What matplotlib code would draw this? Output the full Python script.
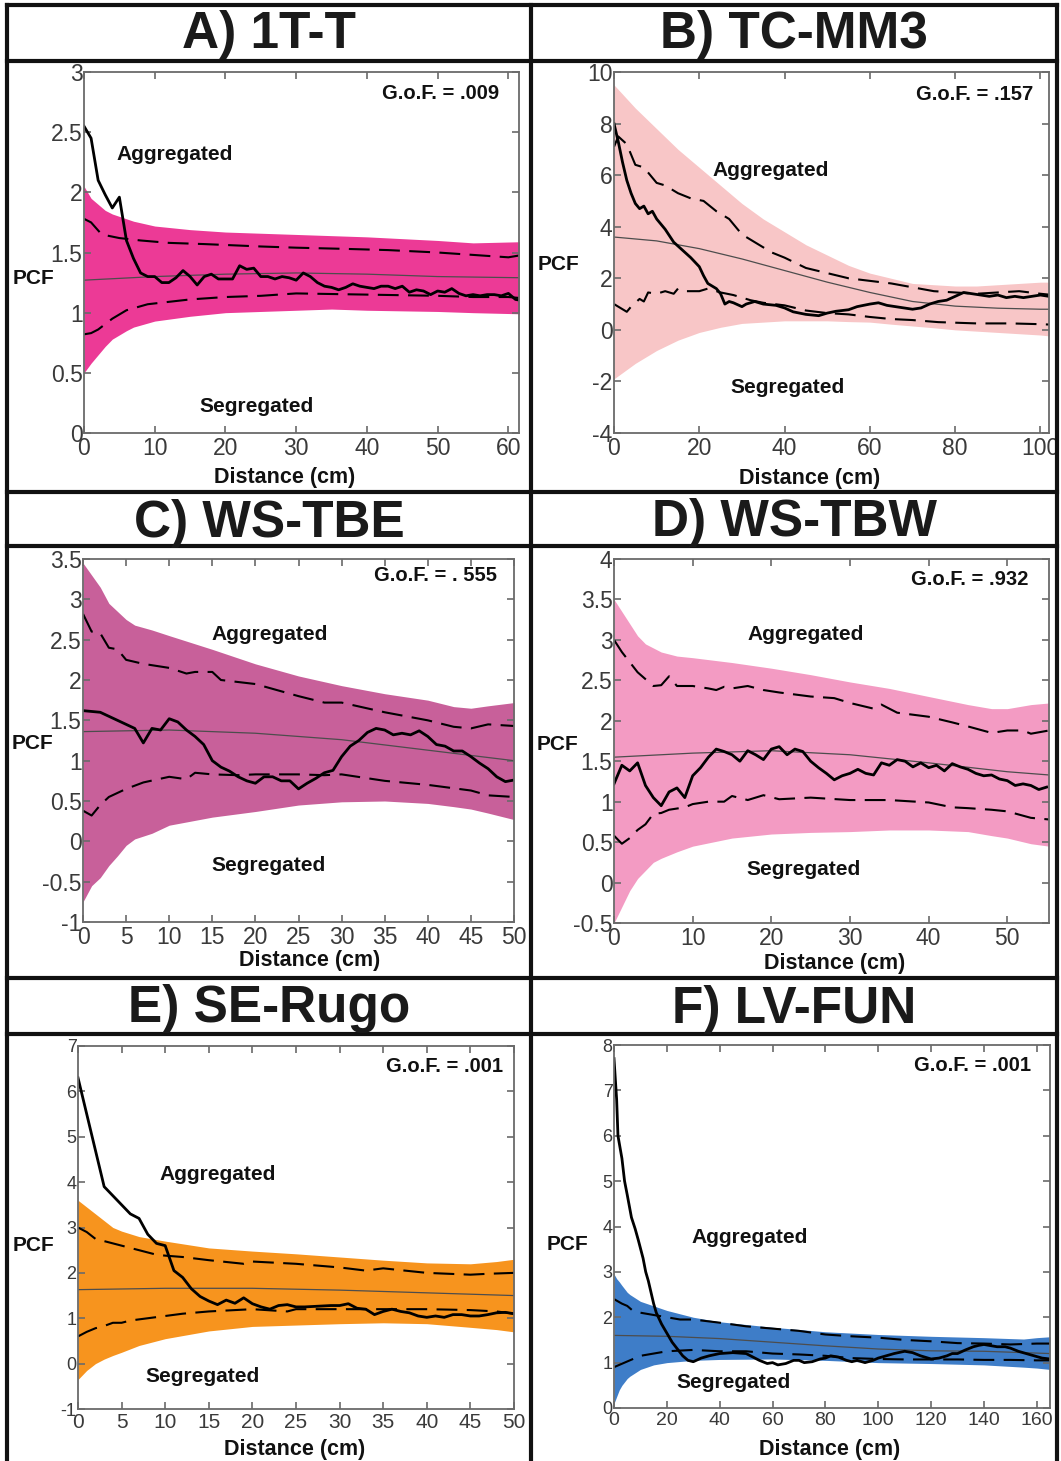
import matplotlib
matplotlib.use("Agg")
import matplotlib.pyplot as plt
from matplotlib.lines import Line2D

plt.rcParams['font.family'] = ['Liberation Sans', 'DejaVu Sans']

W, H = 1061, 1461

# ---------------- DATA ----------------
# Panel A) 1T-T
a_env_x = [0, 1, 2, 3, 4, 6, 7, 10, 15, 20, 30, 35, 40, 50, 55, 62]
a_env_hi = [2.05, 1.95, 1.9, 1.85, 1.82, 1.78, 1.76, 1.72, 1.69, 1.67, 1.65, 1.64, 1.63, 1.60, 1.58, 1.59]
a_env_lo = [0.5, 0.58, 0.65, 0.72, 0.78, 0.85, 0.88, 0.93, 0.97, 1.0, 1.02, 1.03, 1.02, 1.01, 1.0, 0.99]
a_up_x = [0, 1, 2.5, 5, 8, 12, 17, 25, 30, 37, 43, 50, 55, 60, 62]
a_up = [1.78, 1.75, 1.65, 1.62, 1.60, 1.58, 1.57, 1.55, 1.54, 1.53, 1.52, 1.50, 1.48, 1.46, 1.48]
a_lo_x = [0, 1, 2, 4, 6, 9, 12, 15, 20, 25, 30, 40, 50, 55, 60, 62]
a_lo = [0.82, 0.83, 0.86, 0.95, 1.02, 1.07, 1.09, 1.11, 1.13, 1.14, 1.16, 1.15, 1.14, 1.13, 1.13, 1.12]
a_mean_x = [0, 10, 20, 30, 40, 50, 62]
a_mean = [1.27, 1.30, 1.32, 1.33, 1.32, 1.30, 1.29]
a_obs_x = list(range(0, 63))
a_obs = [2.55, 2.45, 2.1, 1.98, 1.87, 1.96, 1.6, 1.45, 1.33, 1.30, 1.30, 1.25, 1.25, 1.29, 1.35, 1.30,
         1.23, 1.30, 1.32, 1.28, 1.28, 1.28, 1.39, 1.36, 1.37, 1.30, 1.30, 1.28, 1.30, 1.29, 1.27, 1.33,
         1.30, 1.25, 1.22, 1.21, 1.19, 1.21, 1.24, 1.22, 1.21, 1.20, 1.22, 1.22, 1.20, 1.22, 1.17, 1.19,
         1.18, 1.15, 1.18, 1.17, 1.20, 1.16, 1.14, 1.15, 1.14, 1.15, 1.15, 1.14, 1.16, 1.11, 1.10]

# Panel B) TC-MM3
b_env_x = [0, 5, 10, 15, 20, 25, 30, 35, 40, 45, 50, 55, 60, 65, 70, 75, 80, 85, 90, 95, 100, 103]
b_env_hi = [9.5, 8.6, 7.8, 7.0, 6.3, 5.6, 4.9, 4.3, 3.8, 3.3, 2.9, 2.5, 2.2, 2.0, 1.8, 1.75, 1.7, 1.7, 1.75, 1.8, 1.85, 1.85]
b_env_lo = [-1.9, -1.3, -0.8, -0.4, -0.1, 0.1, 0.25, 0.3, 0.35, 0.35, 0.35, 0.32, 0.3, 0.22, 0.15, 0.08, 0.0, -0.05, -0.1, -0.15, -0.2, -0.25]
b_up_x = [0, 1, 3, 5, 7, 10, 12, 15, 18, 21, 24, 27, 30, 33, 37, 40, 45, 50, 55, 60, 65, 70, 75, 80, 85, 90, 95, 100, 103]
b_up = [7.1, 7.5, 7.2, 6.4, 6.3, 5.7, 5.6, 5.3, 5.1, 5.0, 4.6, 4.3, 3.7, 3.4, 3.0, 2.8, 2.4, 2.2, 2.0, 1.9, 1.8, 1.65, 1.5, 1.45, 1.4, 1.45, 1.5, 1.4, 1.35]
b_lo_x = [0, 3, 4, 6, 7, 8, 10, 12, 14, 15, 17, 20, 22, 25, 28, 32, 35, 40, 45, 50, 55, 60, 65, 70, 76, 85, 93, 100, 103]
b_lo = [1.0, 0.7, 0.9, 1.2, 1.1, 1.45, 1.4, 1.5, 1.4, 1.6, 1.5, 1.5, 1.6, 1.45, 1.35, 1.15, 1.05, 0.95, 0.75, 0.65, 0.6, 0.5, 0.42, 0.38, 0.3, 0.25, 0.25, 0.22, 0.2]
b_mean_x = [0, 10, 20, 30, 40, 50, 60, 70, 80, 90, 100, 103]
b_mean = [3.6, 3.45, 3.15, 2.75, 2.3, 1.85, 1.45, 1.1, 0.92, 0.84, 0.8, 0.8]
b_obs_x = [0, 1, 2, 3, 4, 5, 6, 7, 8, 9, 10, 12, 14, 16, 18, 20, 21, 22, 23, 24, 25, 26, 27, 28, 30, 31, 33, 35,
           38, 40, 42, 45, 48, 50, 52, 55, 57, 60, 62, 64, 66, 68, 70, 72, 74, 76, 78, 80, 82, 84, 86, 88, 90,
           92, 94, 96, 98, 100, 102, 103]
b_obs = [8.0, 7.3, 6.5, 5.8, 5.3, 4.9, 4.7, 4.8, 4.5, 4.6, 4.3, 3.9, 3.4, 3.1, 2.8, 2.45, 2.1, 1.8, 1.7, 1.6,
         1.4, 1.0, 1.1, 1.05, 0.9, 1.0, 1.1, 1.0, 0.95, 0.85, 0.7, 0.6, 0.55, 0.65, 0.72, 0.78, 0.9, 1.0, 1.05,
         0.95, 0.9, 0.85, 0.8, 0.85, 1.0, 1.1, 1.15, 1.3, 1.45, 1.4, 1.35, 1.3, 1.35, 1.25, 1.3, 1.25, 1.3,
         1.35, 1.3, 1.2]

# Panel C) WS-TBE
c_env_x = [0, 1, 2, 3, 4, 5, 6, 8, 10, 15, 20, 25, 30, 35, 40, 43, 45, 47, 50]
c_env_hi = [3.45, 3.3, 3.15, 2.95, 2.85, 2.75, 2.68, 2.62, 2.55, 2.38, 2.2, 2.05, 1.93, 1.83, 1.75, 1.67, 1.65, 1.68, 1.72]
c_env_lo = [-0.75, -0.55, -0.45, -0.3, -0.18, -0.05, 0.03, 0.1, 0.2, 0.3, 0.37, 0.45, 0.49, 0.5, 0.47, 0.43, 0.4, 0.35, 0.27]
c_up_x = [0, 1, 2, 3, 4, 5, 7, 10, 12, 13, 15, 16, 20, 25, 28, 30, 35, 40, 43, 45, 47, 50]
c_up = [2.82, 2.6, 2.58, 2.4, 2.38, 2.25, 2.2, 2.15, 2.08, 2.1, 2.1, 2.0, 1.95, 1.8, 1.72, 1.72, 1.6, 1.5, 1.42, 1.4, 1.45, 1.43]
c_lo_x = [0, 1, 2, 3, 5, 7, 10, 12, 13, 15, 18, 20, 25, 28, 30, 35, 38, 40, 45, 47, 50]
c_lo = [0.38, 0.32, 0.45, 0.55, 0.65, 0.73, 0.8, 0.77, 0.85, 0.83, 0.82, 0.83, 0.83, 0.82, 0.83, 0.75, 0.72, 0.7, 0.63, 0.57, 0.55]
c_mean_x = [0, 10, 20, 30, 40, 50]
c_mean = [1.36, 1.38, 1.34, 1.26, 1.13, 1.0]
c_obs_x = [0, 2, 4, 6] + list(range(7, 51))
c_obs = [1.62, 1.6, 1.5, 1.4, 1.22, 1.4, 1.38, 1.52, 1.48, 1.38, 1.3, 1.2, 1.0, 0.92, 0.87, 0.8, 0.75, 0.72,
         0.8, 0.8, 0.75, 0.75, 0.65, 0.72, 0.78, 0.85, 0.88, 1.05, 1.18, 1.25, 1.35, 1.4, 1.38, 1.32, 1.34,
         1.32, 1.37, 1.3, 1.2, 1.18, 1.12, 1.12, 1.05, 0.97, 0.9, 0.8, 0.74, 0.76]

# Panel D) WS-TBW
d_env_x = [0, 1, 2, 3, 4, 5, 6, 8, 10, 15, 20, 25, 30, 35, 40, 45, 48, 50, 53, 55.3]
d_env_hi = [3.5, 3.35, 3.2, 3.05, 2.95, 2.9, 2.85, 2.8, 2.78, 2.72, 2.65, 2.57, 2.48, 2.4, 2.3, 2.2, 2.15, 2.15, 2.2, 2.22]
d_env_lo = [-0.5, -0.3, -0.1, 0.05, 0.15, 0.25, 0.3, 0.38, 0.45, 0.55, 0.6, 0.62, 0.63, 0.65, 0.65, 0.63, 0.58, 0.55, 0.48, 0.45]
d_up_x = [0, 1, 3, 5, 6, 7, 8, 10, 12, 13, 14, 15, 17, 19, 21, 25, 28, 30, 33, 34, 36, 40, 43, 45, 48, 50, 52, 53, 55.3]
d_up = [3.0, 2.85, 2.6, 2.43, 2.44, 2.55, 2.43, 2.43, 2.4, 2.38, 2.42, 2.4, 2.43, 2.38, 2.35, 2.3, 2.28, 2.22, 2.15, 2.2, 2.1, 2.05, 1.98, 1.93, 1.85, 1.88, 1.88, 1.84, 1.88]
d_lo_x = [0, 1, 2, 3, 4, 5, 6, 7, 9, 10, 12, 14, 15, 17, 19, 21, 25, 30, 35, 40, 43, 45, 48, 50, 53, 55.3]
d_lo = [0.58, 0.48, 0.55, 0.65, 0.72, 0.85, 0.86, 0.9, 0.93, 0.97, 1.0, 1.0, 1.07, 1.02, 1.08, 1.03, 1.05, 1.02, 1.02, 0.99, 0.93, 0.92, 0.9, 0.88, 0.8, 0.78]
d_mean_x = [0, 10, 20, 30, 40, 50, 55.3]
d_mean = [1.55, 1.6, 1.63, 1.58, 1.48, 1.37, 1.33]
d_obs_x = list(range(0, 56))
d_obs = [1.22, 1.45, 1.38, 1.48, 1.2, 1.05, 0.95, 1.12, 1.17, 1.05, 1.32, 1.42, 1.55, 1.65, 1.62, 1.58,
         1.5, 1.63, 1.58, 1.52, 1.65, 1.68, 1.58, 1.65, 1.62, 1.5, 1.42, 1.35, 1.27, 1.32, 1.35, 1.4, 1.35,
         1.33, 1.48, 1.45, 1.52, 1.5, 1.43, 1.48, 1.42, 1.45, 1.38, 1.47, 1.43, 1.4, 1.35, 1.32, 1.33, 1.28,
         1.26, 1.2, 1.22, 1.2, 1.15, 1.18]

# Panel E) SE-Rugo
e_env_x = [0, 1, 2, 3, 4, 5, 7, 10, 15, 20, 25, 30, 35, 40, 45, 48, 50]
e_env_hi = [3.6, 3.45, 3.3, 3.15, 3.0, 2.92, 2.8, 2.7, 2.55, 2.48, 2.42, 2.35, 2.28, 2.22, 2.2, 2.25, 2.3]
e_env_lo = [-0.35, -0.15, 0.0, 0.1, 0.18, 0.25, 0.4, 0.55, 0.72, 0.82, 0.85, 0.88, 0.9, 0.88, 0.8, 0.75, 0.7]
e_up_x = [0, 1, 2, 3, 5, 7, 9, 10, 12, 15, 18, 19, 20, 25, 30, 33, 35, 40, 45, 47, 50]
e_up = [3.0, 2.9, 2.75, 2.7, 2.6, 2.5, 2.4, 2.38, 2.35, 2.28, 2.22, 2.2, 2.25, 2.2, 2.12, 2.05, 2.1, 2.0, 1.96, 1.98, 2.0]
e_lo_x = [0, 1, 2, 3, 4, 5, 6, 8, 10, 12, 15, 20, 24, 25, 30, 35, 40, 45, 48, 50]
e_lo = [0.6, 0.7, 0.78, 0.83, 0.9, 0.9, 0.95, 1.0, 1.05, 1.1, 1.15, 1.2, 1.15, 1.2, 1.2, 1.2, 1.2, 1.18, 1.15, 1.1]
e_mean_x = [0, 10, 20, 30, 40, 50]
e_mean = [1.63, 1.66, 1.66, 1.62, 1.56, 1.5]
e_obs_x = list(range(0, 51))
e_obs = [6.3, 5.5, 4.7, 3.9, 3.7, 3.5, 3.3, 3.2, 2.85, 2.65, 2.6, 2.05, 1.9, 1.65, 1.48, 1.38, 1.3, 1.4,
         1.33, 1.45, 1.32, 1.25, 1.2, 1.28, 1.3, 1.25, 1.25, 1.26, 1.27, 1.28, 1.28, 1.32, 1.22, 1.2, 1.08,
         1.15, 1.2, 1.15, 1.12, 1.05, 1.02, 1.05, 1.02, 1.08, 1.08, 1.05, 1.05, 1.08, 1.12, 1.13, 1.1]

# Panel F) LV-FUN
f_env_x = [0, 1, 2, 3, 5, 6, 10, 15, 20, 30, 40, 60, 80, 100, 120, 140, 155, 160, 165]
f_env_hi = [2.95, 2.85, 2.78, 2.7, 2.55, 2.5, 2.35, 2.25, 2.15, 2.0, 1.9, 1.78, 1.68, 1.62, 1.58, 1.55, 1.52, 1.55, 1.57]
f_env_lo = [0.1, 0.25, 0.4, 0.5, 0.65, 0.7, 0.85, 0.95, 1.0, 1.05, 1.07, 1.08, 1.05, 1.0, 0.98, 0.95, 0.9, 0.88, 0.85]
f_up_x = [0, 3, 5, 7, 10, 15, 20, 25, 30, 40, 50, 60, 70, 80, 90, 100, 110, 120, 130, 140, 150, 160, 165]
f_up = [2.4, 2.3, 2.25, 2.15, 2.1, 2.05, 2.0, 1.95, 1.95, 1.88, 1.8, 1.75, 1.7, 1.62, 1.58, 1.55, 1.5, 1.47, 1.43, 1.42, 1.4, 1.42, 1.42]
f_lo_x = [0, 2, 4, 6, 8, 10, 15, 20, 30, 40, 50, 60, 70, 80, 90, 100, 110, 120, 130, 140, 150, 160, 165]
f_lo = [0.9, 0.95, 1.0, 1.05, 1.1, 1.15, 1.2, 1.25, 1.28, 1.25, 1.25, 1.2, 1.18, 1.15, 1.1, 1.08, 1.07, 1.07, 1.07, 1.06, 1.06, 1.05, 1.05]
f_mean_x = [0, 20, 40, 60, 80, 100, 120, 140, 165]
f_mean = [1.6, 1.58, 1.53, 1.45, 1.37, 1.3, 1.26, 1.25, 1.2]
f_obs_x = [0, 1, 1.5, 3, 4, 5, 6.6, 8, 9.2, 11, 12, 13, 14, 15, 16, 18, 20, 22, 24, 26, 28, 30, 33, 36, 40,
           45, 50, 55, 58, 60, 62, 65, 68, 70, 72, 75, 78, 80, 82, 85, 88, 90, 92, 95, 98, 100, 103, 106,
           110, 113, 116, 120, 123, 126, 128, 130, 133, 136, 138, 140, 142, 145, 148, 150, 153, 156, 159,
           162, 165]
f_obs = [7.7, 6.8, 6.0, 5.5, 5.0, 4.7, 4.2, 3.95, 3.7, 3.3, 3.0, 2.8, 2.55, 2.3, 2.1, 1.85, 1.65, 1.45, 1.3,
         1.15, 1.05, 1.02, 1.1, 1.15, 1.2, 1.22, 1.2, 1.05, 0.98, 1.0, 0.95, 0.98, 1.05, 1.05, 1.0, 1.02,
         1.08, 1.1, 1.15, 1.12, 1.05, 1.02, 1.05, 1.0, 1.05, 1.1, 1.15, 1.2, 1.25, 1.22, 1.15, 1.08, 1.1,
         1.15, 1.2, 1.2, 1.28, 1.35, 1.38, 1.4, 1.38, 1.35, 1.35, 1.32, 1.25, 1.2, 1.15, 1.1, 1.08]

titles = ["A) 1T-T", "B) TC-MM3", "C) WS-TBE", "D) WS-TBW", "E) SE-Rugo", "F) LV-FUN"]
gof_labels = ["G.o.F. = .009", "G.o.F. = .157", "G.o.F. = . 555", "G.o.F. = .932", "G.o.F. = .001", "G.o.F. = .001"]
env_colors = ["#EC3A96", "#F8C6C7", "#C8609A", "#F39BC3", "#F7941E", "#3E7DC8"]
xticks_list = [[0, 10, 20, 30, 40, 50, 60], [0, 20, 40, 60, 80, 100], list(range(0, 51, 5)),
               [0, 10, 20, 30, 40, 50], list(range(0, 51, 5)), [0, 20, 40, 60, 80, 100, 120, 140, 160]]
yticks_list = [[0, 0.5, 1, 1.5, 2, 2.5, 3], [-4, -2, 0, 2, 4, 6, 8, 10],
               [-1, -0.5, 0, 0.5, 1, 1.5, 2, 2.5, 3, 3.5], [-0.5, 0, 0.5, 1, 1.5, 2, 2.5, 3, 3.5, 4],
               [-1, 0, 1, 2, 3, 4, 5, 6, 7], [0, 1, 2, 3, 4, 5, 6, 7, 8]]
xlims = [(0, 61.5), (0, 102), (0, 50), (0, 55.3), (0, 50), (0, 165)]

panels = [
    (a_env_x, a_env_hi, a_env_lo, a_up_x, a_up, a_lo_x, a_lo, a_mean_x, a_mean, a_obs_x, a_obs),
    (b_env_x, b_env_hi, b_env_lo, b_up_x, b_up, b_lo_x, b_lo, b_mean_x, b_mean, b_obs_x, b_obs),
    (c_env_x, c_env_hi, c_env_lo, c_up_x, c_up, c_lo_x, c_lo, c_mean_x, c_mean, c_obs_x, c_obs),
    (d_env_x, d_env_hi, d_env_lo, d_up_x, d_up, d_lo_x, d_lo, d_mean_x, d_mean, d_obs_x, d_obs),
    (e_env_x, e_env_hi, e_env_lo, e_up_x, e_up, e_lo_x, e_lo, e_mean_x, e_mean, e_obs_x, e_obs),
    (f_env_x, f_env_hi, f_env_lo, f_up_x, f_up, f_lo_x, f_lo, f_mean_x, f_mean, f_obs_x, f_obs),
]

# ---------------- LAYOUT (pixels) ----------------
axes_px = [(84, 519, 72, 433), (614, 1049, 72, 433), (83, 514, 559, 922),
           (614, 1049, 559, 923), (78, 514, 1046, 1409), (614, 1050, 1045, 1408)]
title_px = [(269, 48), (794, 48), (269, 537), (794, 536), (269, 1022), (794, 1023)]
agg_px = [(175, 160), (771, 176), (270, 640), (806, 640), (218, 1180), (750, 1243)]
seg_px = [(257, 412), (788, 393), (269, 871), (804, 875), (203, 1382), (734, 1388)]
gof_px = [(499, 99), (1033, 100), (497, 581), (1028, 585), (503, 1072), (1031, 1071)]
pcf_px = [(13, 284), (538, 270), (12, 749), (537, 750), (13, 1251), (547, 1250)]
dist_px = [(285, 483), (810, 484), (310, 966), (835, 969), (295, 1455), (830, 1455)]
xlab_size = [16.5, 16.5, 16.5, 16.5, 15, 14]
ylab_size = [16.5, 16.5, 16.5, 16.5, 13, 13]

fig = plt.figure(figsize=(W / 100, H / 100), dpi=100)

def fx(x):
    return x / W

def fy(y):
    return 1 - y / H

spine_c = "#6a6a6a"
for i, (ex, ehi, elo, ux, uy, lx, ly, mx, my, ox, oy) in enumerate(panels):
    L, R, T, B = axes_px[i]
    ax = fig.add_axes([fx(L), fy(B), (R - L) / W, (B - T) / H])
    ax.fill_between(ex, elo, ehi, color=env_colors[i], lw=0, zorder=1)
    ax.plot(mx, my, color="#4d4d4d", lw=0.9, zorder=2)
    ax.plot(ux, uy, color="black", lw=1.5, dashes=(10, 4.5), zorder=3)
    ax.plot(lx, ly, color="black", lw=1.5, dashes=(10, 4.5), zorder=3)
    ax.plot(ox, oy, color="black", lw=2.0, zorder=4)
    yt = yticks_list[i]
    ax.set_ylim(yt[0], yt[-1])
    ax.set_xlim(*xlims[i])
    ax.set_xticks(xticks_list[i])
    ax.set_xticklabels([f"{v:g}" for v in xticks_list[i]])
    ax.set_yticks(yt)
    ax.set_yticklabels([f"{v:g}" for v in yt])
    for s in ax.spines.values():
        s.set_color(spine_c)
        s.set_linewidth(1.3)
        s.set_zorder(5)
    ax.tick_params(axis="both", direction="in", length=5, width=1.2, color=spine_c,
                   top=True, right=True, labelcolor="#3a3a3a")
    ax.tick_params(axis="x", labelsize=xlab_size[i], pad=3)
    ax.tick_params(axis="y", labelsize=ylab_size[i], pad=1)

    fig.text(fx(title_px[i][0]), fy(title_px[i][1]), titles[i], ha="center", va="baseline",
             fontsize=37, fontweight="bold", color="#1a1a1a")
    fig.text(fx(agg_px[i][0]), fy(agg_px[i][1]), "Aggregated", ha="center", va="baseline",
             fontsize=15, fontweight="bold", color="#111111")
    fig.text(fx(seg_px[i][0]), fy(seg_px[i][1]), "Segregated", ha="center", va="baseline",
             fontsize=15, fontweight="bold", color="#111111")
    fig.text(fx(gof_px[i][0]), fy(gof_px[i][1]), gof_labels[i], ha="right", va="baseline",
             fontsize=14.5, fontweight="bold", color="#111111")
    fig.text(fx(pcf_px[i][0]), fy(pcf_px[i][1]), "PCF", ha="left", va="baseline",
             fontsize=15, fontweight="bold", color="#111111")
    fig.text(fx(dist_px[i][0]), fy(dist_px[i][1]), "Distance (cm)", ha="center", va="baseline",
             fontsize=15.5, fontweight="bold", color="#111111")

# ---------------- FRAME LINES ----------------
def hline(y, x0=7, x1=1057):
    fig.add_artist(Line2D([fx(x0), fx(x1)], [fy(y), fy(y)], transform=fig.transFigure,
                          color="#111111", lw=3.0, solid_capstyle="projecting"))

def vline(x, y0=5, y1=1461):
    fig.add_artist(Line2D([fx(x), fx(x)], [fy(y0), fy(y1)], transform=fig.transFigure,
                          color="#111111", lw=3.0, solid_capstyle="projecting"))

for yy in [5, 61, 492, 546, 978, 1034]:
    hline(yy)
for xx in [7, 531, 1057]:
    vline(xx)

fig.savefig("out.png", dpi=100)
